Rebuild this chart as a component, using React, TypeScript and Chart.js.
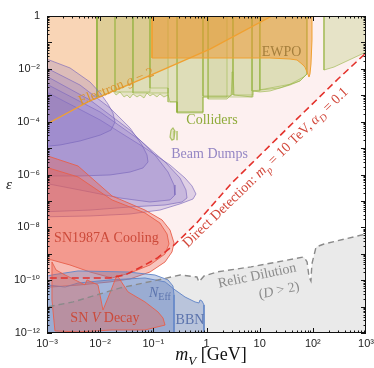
import React, { useEffect, useRef } from 'react';
import { Chart, registerables } from 'chart.js';

Chart.register(...registerables);

// ---------- axes ----------
const X_TICKS = [1e-3, 1e-2, 1e-1, 1, 10, 100, 1000];
const X_TICK_LABELS = ['10⁻³', '10⁻²', '10⁻¹', '1', '10', '10²', '10³'];
const Y_TICKS = [1e-12, 1e-10, 1e-8, 1e-6, 1e-4, 1e-2, 1];
const Y_TICK_LABELS = ['10⁻¹²', '10⁻¹⁰', '10⁻⁸', '10⁻⁶', '10⁻⁴', '10⁻²', '1'];

// ---------- data: [m_V in GeV, epsilon] ----------
const DIRECT_DETECTION = [[7e-4, 1.2e-10], [1e-3, 1.2e-10], [1.5e-2, 1.2e-10], [3e-2, 1.6e-10], [6e-2, 3.2e-10], [0.12, 7e-10], [0.25, 2.2e-9], [0.66, 1.5e-8], [3, 4.8e-7], [30, 4.6e-5], [300, 4.2e-3], [1000, 4e-2]];
const RELIC_DILUTION = [[7e-4, 9e-12], [1e-3, 9.7e-12], [3.1e-3, 1.5e-11], [2.4e-2, 5.1e-11], [0.117, 1.0e-10], [0.32, 1.57e-10], [0.66, 1.32e-10], [0.72, 8.6e-11], [0.9, 1.44e-10], [1.57, 2.04e-10], [6.9, 3.2e-10], [44, 6.4e-10], [68, 7.6e-10], [78, 4.9e-10], [85, 1.3e-10], [92, 9.3e-11], [96, 4.1e-10], [115, 1.8e-9], [162, 2.34e-9], [1000, 5.6e-9]];
const G2_LINE = [[7e-4, 5.6e-5], [1e-3, 8.2e-5], [6.4e-3, 6.1e-4], [5.6e-2, 3.8e-3], [1.16, 5.6e-2], [17, 1], [25, 1.5]];

const COLLIDERS = [[8.7e-3, 2], [8.7e-3, 7.9e-4], [1.74e-2, 1.45e-3], [1.99e-2, 1.02e-3], [2.36e-2, 1.33e-3], [2.81e-2, 8.6e-4], [3.2e-2, 1.02e-3], [3.64e-2, 7.9e-4], [4.14e-2, 1.12e-3], [4.93e-2, 8.6e-4], [5.61e-2, 1.02e-3], [6.67e-2, 7.9e-4], [7.6e-2, 1.22e-3], [8.65e-2, 9.4e-4], [9.86e-2, 1.12e-3], [0.117, 8.6e-4], [0.133, 1.12e-3], [0.158, 8.6e-4], [0.189, 1.02e-3], [0.206, 5.6e-4], [0.279, 5.6e-4], [0.279, 2.13e-4], [0.859, 2.13e-4], [0.859, 8.6e-4], [1.07, 8.6e-4], [1.07, 7.2e-4], [2.43, 7.2e-4], [2.89, 1.02e-3], [3.01, 7.6e-3], [3.15, 7.6e-3], [3.29, 1.02e-3], [7.18, 8.6e-4], [7.48, 1.45e-3], [10.1, 1.33e-3], [15.6, 1.45e-3], [24.1, 1.88e-3], [37.2, 2.44e-3], [57.3, 3.47e-3], [68.2, 4.9e-3], [77.6, 6.4e-3], [77.6, 2], [8.7e-3, 2]];
const COLLIDERS_HIGH = [[162, 2], [162, 9e-3], [250, 1.17e-2], [1000, 4.3e-2], [1500, 5e-2], [1500, 2], [162, 2]];
const COLLIDER_BANDS = [
  [[8.7e-3, 2], [8.7e-3, 7.9e-4], [4.14e-2, 2.9e-3], [4.14e-2, 2], [8.7e-3, 2]],
  [[1.9e-2, 2], [1.9e-2, 1.33e-3], [8.65e-2, 1.33e-3], [8.65e-2, 2], [1.9e-2, 2]],
  [[4.14e-2, 2], [4.14e-2, 1.22e-3], [0.189, 1.22e-3], [0.189, 2], [4.14e-2, 2]],
  [[8.65e-2, 2], [8.65e-2, 1.88e-3], [0.189, 1.88e-3], [0.189, 5.6e-4], [0.279, 5.6e-4], [0.279, 2.32e-4], [0.859, 2.32e-4], [0.859, 2], [8.65e-2, 2]],
  [[0.279, 2], [0.279, 2.32e-4], [0.859, 2.32e-4], [0.859, 8.6e-4], [2.43, 8.6e-4], [2.43, 2], [0.279, 2]],
  [[0.859, 2], [0.859, 9.4e-4], [2.89, 9.4e-4], [3.15, 7.6e-3], [3.15, 2], [0.859, 2]],
  [[1.07, 2], [1.07, 8.6e-4], [7.18, 8.6e-4], [7.18, 2], [1.07, 2]],
  [[3.15, 2], [3.15, 1.02e-3], [7.18, 1.02e-3], [7.48, 1.45e-3], [10.1, 1.45e-3], [10.1, 2], [3.15, 2]],
  [[7.18, 2], [7.18, 1.45e-3], [24.1, 1.9e-3], [57.3, 3.5e-3], [77.6, 6.4e-3], [77.6, 2], [7.18, 2]],
  [[10.1, 2], [10.1, 1.6e-3], [37.2, 2.6e-3], [68.2, 5e-3], [77.6, 6.4e-3], [77.6, 2], [10.1, 2]],
];
const COLLIDER_BLOB = [[0.215, 4.8e-5], [0.234, 5.8e-5], [0.255, 4.4e-5], [0.245, 2.2e-5], [0.224, 2.0e-5], [0.206, 2.6e-5], [0.215, 4.8e-5]];
const COLLIDER_MARK = [[0.279, 4.4e-5], [0.279, 2.0e-5]];

const EWPO = [[9.44e-2, 2], [9.44e-2, 2.57e-2], [15.6, 2.57e-2], [37.2, 2.35e-2], [50.4, 2.16e-2], [62.5, 1.52e-2], [71.1, 1.17e-2], [77.6, 7.6e-3], [84.7, 4.9e-3], [88.3, 6.4e-3], [92.3, 1.52e-2], [96.4, 0.124], [96.4, 2], [9.44e-2, 2]];

const BEAM_DUMP_1 = [[7e-4, 3.06e-2], [2.71e-3, 1.08e-2], [6.44e-3, 3.18e-3], [1e-2, 1.22e-3], [1.4e-2, 4.67e-4], [1.74e-2, 2.13e-4], [1.9e-2, 9.7e-5], [1.6e-2, 4.8e-5], [1e-2, 3.1e-5], [4.18e-3, 1.86e-5], [1.76e-3, 1.31e-5], [7e-4, 1.1e-5], [7e-4, 3.06e-2]];
const BEAM_DUMP_2 = [[7e-4, 1.52e-2], [4.18e-3, 2.44e-3], [1.53e-2, 3.3e-4], [3.64e-2, 5.8e-5], [6.12e-2, 1.31e-5], [7.6e-2, 5.5e-6], [7.94e-2, 2.98e-6], [6.4e-2, 1.77e-6], [3.64e-2, 1.24e-6], [1.53e-2, 9.6e-7], [4.18e-3, 8.8e-7], [7e-4, 8.8e-7], [7e-4, 1.52e-2]];
const BEAM_DUMP_3 = [[7e-4, 7.6e-3], [6.44e-3, 6.6e-4], [3.64e-2, 4.8e-5], [0.107, 5.5e-6], [0.189, 1.24e-6], [0.245, 4.0e-7], [0.255, 1.68e-7], [0.206, 1.09e-7], [8.65e-2, 9.1e-8], [2.36e-2, 1.29e-7], [6.44e-3, 2.18e-7], [7e-4, 5.2e-7], [7e-4, 7.6e-3]];
const BEAM_DUMP_4 = [[7e-4, 3.78e-3], [1e-2, 2.32e-4], [5.61e-2, 2.0e-5], [0.166, 2.98e-6], [0.317, 7.4e-7], [0.411, 2.6e-7], [0.43, 1.29e-7], [0.346, 9.1e-8], [0.166, 7.0e-8], [3.64e-2, 5.9e-8], [6.44e-3, 4.5e-8], [7e-4, 3.8e-8], [7e-4, 3.78e-3]];
const BEAM_DUMP_5 = [[7e-4, 1.88e-3], [1e-2, 1.16e-4], [6.97e-2, 1.01e-5], [0.206, 2.29e-6], [0.394, 7.4e-7], [0.533, 3.7e-7], [0.634, 1.83e-7], [0.557, 1.18e-7], [0.317, 7.7e-8], [0.133, 4.5e-8], [3.64e-2, 3.2e-8], [6.44e-3, 2.69e-8], [7e-4, 2.47e-8], [7e-4, 1.88e-3]];

const SN1987A_OUTER = [[7e-4, 6.5e-6], [3.83e-3, 2.1e-6], [1.67e-2, 1.54e-7], [6.97e-2, 4.5e-8], [0.146, 1.9e-8], [0.206, 7.9e-9], [0.245, 2.56e-9], [0.224, 1.17e-9], [0.166, 4.9e-10], [8.65e-2, 2.04e-10], [3.64e-2, 1.11e-10], [1.53e-2, 8.6e-11], [4.18e-3, 6.6e-11], [7e-4, 5.1e-11], [7e-4, 6.5e-6]];
const SN1987A_INNER = [[7e-4, 2.29e-6], [3.83e-3, 8.1e-7], [1.67e-2, 1.09e-7], [6.97e-2, 3.5e-8], [0.133, 1.46e-8], [0.181, 5.6e-9], [0.197, 2.34e-9], [0.166, 9.8e-10], [8.65e-2, 3.76e-10], [3.64e-2, 1.87e-10], [1.67e-2, 1.21e-10], [6.44e-3, 2.04e-10], [2.71e-3, 3.76e-10], [1.24e-3, 5.8e-10], [7e-4, 6.9e-10], [7e-4, 2.29e-6]];
const SN_V_DECAY = [[1.24e-3, 4.9e-10], [1.48e-3, 2.43e-10], [2.19e-3, 1.57e-10], [5.19e-3, 6.6e-11], [5.65e-3, 1.02e-10], [9.1e-3, 6.6e-11], [1.13e-2, 7.4e-12], [1.53e-2, 3.3e-11], [2.07e-2, 1.57e-10], [3.33e-2, 3.6e-11], [6.97e-2, 1.5e-11], [0.122, 6.3e-12], [0.152, 3.7e-12], [0.166, 2.0e-12], [6.97e-2, 1.3e-12], [1.67e-2, 1.3e-12], [3.83e-3, 1.1e-12], [1.41e-3, 1.2e-12], [1.24e-3, 1.78e-11], [1.24e-3, 4.9e-10]];

const N_EFF = [[7e-4, 1.21e-10], [1.24e-3, 1.57e-10], [3.83e-3, 2.23e-10], [3.33e-2, 2.04e-10], [0.107, 1.57e-10], [0.189, 1.02e-10], [0.234, 6.0e-11], [0.245, 2.75e-11], [0.245, 5e-13], [7e-4, 5e-13], [7e-4, 1.21e-10]];
const BBN = [[7e-4, 7.2e-11], [2.19e-3, 5.5e-11], [3.83e-3, 7.8e-11], [1.53e-2, 1.02e-10], [6.97e-2, 1.21e-10], [0.166, 8.6e-11], [0.255, 4.3e-11], [0.394, 2.31e-11], [0.608, 1.5e-11], [0.722, 1.37e-11], [0.755, 1.78e-11], [0.822, 1.63e-11], [0.897, 1.15e-11], [0.897, 5e-13], [7e-4, 5e-13], [7e-4, 7.2e-11]];

// region closures built from the boundary curves
const DD_REGION = [...DIRECT_DETECTION, [1000, 2], [7e-4, 2]];
const RELIC_REGION = [...RELIC_DILUTION, [1000, 5e-13], [7e-4, 5e-13]];
const G2_REGION = [...G2_LINE, [25, 2], [7e-4, 2]];

// ---------- annotations (anchors in data units) ----------
type Part = { t: string; it?: boolean; sub?: boolean };
const SERIF = '"Liberation Serif", "Times New Roman", serif';
const ANNOTATIONS: { at: number[]; angle: number; color: string; size: number; parts: Part[] }[] = [
  { at: [1.99e-2, 2.24e-3], angle: -22, color: '#d9952f', size: 14, parts: [{ t: 'Electron ' }, { t: 'g', it: true }, { t: ' − 2' }] },
  { at: [25.7, 4.73e-2], angle: 0, color: '#a47e3c', size: 14, parts: [{ t: 'EWPO' }] },
  { at: [1.27, 1.26e-4], angle: 0, color: '#8fab3a', size: 14, parts: [{ t: 'Colliders' }] },
  { at: [1.14, 6.5e-6], angle: 0, color: '#9486c4', size: 14, parts: [{ t: 'Beam Dumps' }] },
  { at: [1.31e-2, 4.3e-9], angle: 0, color: '#cc4a3a', size: 14, parts: [{ t: 'SN1987A Cooling' }] },
  { at: [1.23e-2, 4.0e-12], angle: 0, color: '#cc4a3a', size: 14, parts: [{ t: 'SN ' }, { t: 'V', it: true }, { t: ' Decay' }] },
  { at: [0.133, 3.6e-11], angle: 0, color: '#5b73ad', size: 14, parts: [{ t: 'N', it: true }, { t: 'Eff', sub: true }] },
  { at: [0.489, 3.4e-12], angle: 0, color: '#5b73ad', size: 14, parts: [{ t: 'BBN' }] },
  { at: [8.9, 1.57e-10], angle: -12, color: '#8c8c8c', size: 14, parts: [{ t: 'Relic Dilution' }] },
  { at: [23.1, 4.3e-11], angle: -12, color: '#8c8c8c', size: 14, parts: [{ t: '(' }, { t: 'D', it: true }, { t: ' > 2)' }] },
  { at: [12.6, 1.93e-6], angle: -44, color: '#d2473a', size: 14, parts: [{ t: 'Direct Detection: ' }, { t: 'm', it: true }, { t: 'p', it: true, sub: true }, { t: ' = 10 TeV, ' }, { t: 'α', it: true }, { t: 'D', it: true, sub: true }, { t: ' = 0.1' }] },
];

function drawRich(ctx: CanvasRenderingContext2D, parts: Part[], cx: number, cy: number, angle: number, size: number, color: string) {
  ctx.save();
  ctx.translate(cx, cy);
  ctx.rotate((angle * Math.PI) / 180);
  ctx.fillStyle = color;
  ctx.textBaseline = 'alphabetic';
  ctx.textAlign = 'left';
  const fontFor = (p: Part) => `${p.it ? 'italic ' : ''}${p.sub ? Math.round(size * 0.7) : size}px ${SERIF}`;
  let total = 0;
  const widths = parts.map((p) => {
    ctx.font = fontFor(p);
    const w = ctx.measureText(p.t).width;
    total += w;
    return w;
  });
  let x = -total / 2;
  const base = size * 0.33;
  parts.forEach((p, i) => {
    ctx.font = fontFor(p);
    ctx.fillText(p.t, x, base + (p.sub ? size * 0.28 : 0));
    x += widths[i];
  });
  ctx.restore();
}

const pts = (arr: number[][]) => arr.map(([x, y]) => ({ x, y }));
const region = (data: number[][], fillColor: string, borderColor: string, borderWidth = 1) => ({
  data: pts(data), fill: 'shape', backgroundColor: fillColor, borderColor, borderWidth, pointRadius: 0, tension: 0,
});
const curve = (data: number[][], color: string, width: number, dash: number[] = []) => ({
  data: pts(data), fill: false, borderColor: color, borderWidth: width, borderDash: dash, pointRadius: 0, tension: 0,
});

const framePlugin = {
  id: 'frameAndText',
  afterDraw(chart: any) {
    const { ctx, chartArea: a, scales } = chart;
    const xs = scales.x;
    const ys = scales.y;
    ctx.save();
    ANNOTATIONS.forEach((an) => {
      drawRich(ctx, an.parts, xs.getPixelForValue(an.at[0]), ys.getPixelForValue(an.at[1]), an.angle, an.size, an.color);
    });
    ctx.strokeStyle = '#111';
    ctx.lineWidth = 1;
    ctx.strokeRect(a.left + 0.5, a.top + 0.5, a.right - a.left - 1, a.bottom - a.top - 1);
    ctx.beginPath();
    for (let d = -3; d < 3; d++) {
      for (let k = 1; k < 10; k++) {
        const px = Math.round(xs.getPixelForValue(k * Math.pow(10, d))) + 0.5;
        const len = k === 1 ? 5 : 2.5;
        ctx.moveTo(px, a.bottom); ctx.lineTo(px, a.bottom - len);
        ctx.moveTo(px, a.top); ctx.lineTo(px, a.top + len);
      }
    }
    for (let d = -12; d < 0; d++) {
      for (let k = 1; k < 10; k++) {
        const py = Math.round(ys.getPixelForValue(k * Math.pow(10, d))) + 0.5;
        const len = k === 1 ? 5 : 2.5;
        ctx.moveTo(a.left, py); ctx.lineTo(a.left + len, py);
        ctx.moveTo(a.right, py); ctx.lineTo(a.right - len, py);
      }
    }
    ctx.stroke();
    drawRich(ctx, [{ t: 'm', it: true }, { t: 'V', it: true, sub: true }, { t: ' [GeV]' }], 211, 354, 0, 18, '#111');
    drawRich(ctx, [{ t: 'ε', it: true }], 9, 184, 0, 15, '#111');
    ctx.restore();
  },
};

export default function App() {
  const ref = useRef<HTMLCanvasElement>(null);
  useEffect(() => {
    document.body.style.margin = '0';
    const GREEN_FILL = 'rgba(165,190,80,0.26)';
    const GREEN_LINE = 'rgba(150,180,65,0.75)';
    const PURPLE_FILL = 'rgba(130,110,195,0.24)';
    const PURPLE_LINE = 'rgba(120,100,185,0.8)';
    const RED_FILL = 'rgba(235,95,75,0.36)';
    const RED_LINE = 'rgba(232,95,75,0.9)';
    const BLUE_FILL = 'rgba(100,130,195,0.36)';
    const BLUE_LINE = 'rgba(100,135,200,0.95)';
    const layers: any[] = [
      region(DD_REGION, '#fdf0f0', 'transparent', 0),
      region(RELIC_REGION, 'rgba(200,200,200,0.38)', 'transparent', 0),
      region(G2_REGION, 'rgba(245,180,110,0.45)', 'transparent', 0),
      region(COLLIDERS, GREEN_FILL, GREEN_LINE, 0.8),
      region(COLLIDERS_HIGH, GREEN_FILL, GREEN_LINE, 0.8),
      ...COLLIDER_BANDS.map((b) => region(b, 'rgba(150,180,60,0.05)', GREEN_LINE, 0.7)),
      region(COLLIDER_BLOB, GREEN_FILL, GREEN_LINE, 1.2),
      curve(COLLIDER_MARK, GREEN_LINE, 1.5),
      region(EWPO, 'rgba(238,150,45,0.5)', '#f0a030', 1),
      region(BEAM_DUMP_5, PURPLE_FILL, PURPLE_LINE, 0.8),
      region(BEAM_DUMP_4, PURPLE_FILL, PURPLE_LINE, 0.8),
      region(BEAM_DUMP_3, PURPLE_FILL, PURPLE_LINE, 0.8),
      region(BEAM_DUMP_2, PURPLE_FILL, PURPLE_LINE, 0.8),
      region(BEAM_DUMP_1, PURPLE_FILL, PURPLE_LINE, 0.8),
      region(SN1987A_OUTER, RED_FILL, RED_LINE, 1),
      region(SN1987A_INNER, RED_FILL, RED_LINE, 1),
      region(BBN, BLUE_FILL, BLUE_LINE, 1),
      region(N_EFF, BLUE_FILL, BLUE_LINE, 1),
      region(SN_V_DECAY, RED_FILL, RED_LINE, 1),
      curve(G2_LINE, '#f0a030', 1.3),
      curve(RELIC_DILUTION, '#8a8a8a', 1.4, [6, 4]),
      curve(DIRECT_DETECTION, '#e3312b', 1.6, [7, 4]),
    ];
    const n = layers.length;
    const datasets = layers.map((d, i) => ({ ...d, order: n - i }));
    const tickFont = { family: '"Liberation Sans", Arial, "DejaVu Sans", sans-serif', size: 11 };
    const chart = new Chart(ref.current as HTMLCanvasElement, {
      type: 'line',
      data: { datasets },
      options: {
        animation: false,
        responsive: false,
        events: [],
        layout: { padding: { left: 0, right: 8, top: 16, bottom: 0 } },
        plugins: { legend: { display: false }, tooltip: { enabled: false } },
        scales: {
          x: {
            type: 'logarithmic', min: 1e-3, max: 1e3, position: 'bottom',
            grid: { display: false, drawTicks: false }, border: { display: false },
            afterBuildTicks: (s: any) => { s.ticks = X_TICKS.map((v) => ({ value: v })); },
            afterFit: (s: any) => { s.height = 35; s.paddingLeft = 0; s.paddingRight = 0; },
            ticks: { autoSkip: false, maxRotation: 0, padding: 4, color: '#222', font: tickFont, callback: (_v: any, i: number) => X_TICK_LABELS[i] },
          },
          y: {
            type: 'logarithmic', min: 1e-12, max: 1, position: 'left',
            grid: { display: false, drawTicks: false }, border: { display: false },
            afterBuildTicks: (s: any) => { s.ticks = Y_TICKS.map((v) => ({ value: v })); },
            afterFit: (s: any) => { s.width = 47; s.paddingTop = 0; s.paddingBottom = 0; },
            ticks: { autoSkip: false, padding: 7, color: '#222', font: tickFont, callback: (_v: any, i: number) => Y_TICK_LABELS[i] },
          },
        },
      } as any,
      plugins: [framePlugin],
    });
    return () => chart.destroy();
  }, []);
  return (
    <div style={{ width: 374, height: 368 }}>
      <canvas ref={ref} width={374} height={368} style={{ display: 'block' }} />
    </div>
  );
}
